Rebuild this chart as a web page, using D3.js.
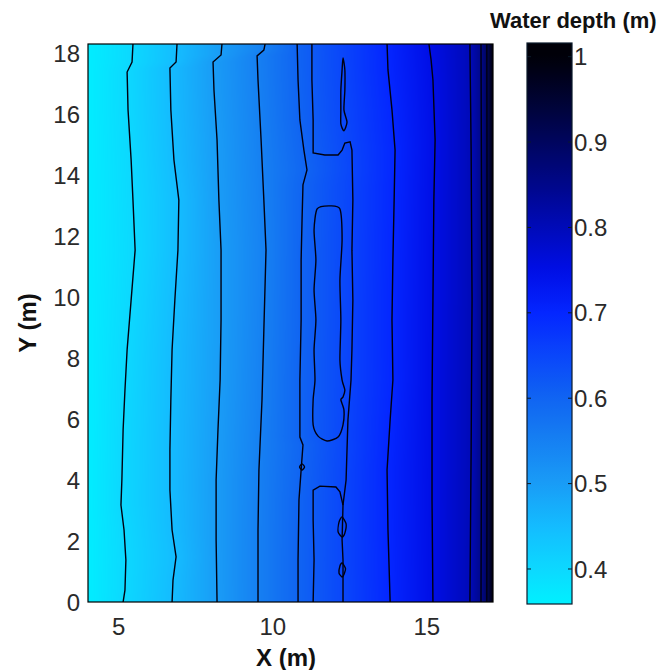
<!DOCTYPE html>
<html>
<head>
<meta charset="utf-8">
<script src="https://cdn.jsdelivr.net/npm/d3@7"></script>
<style>
  body { margin: 0; background: #fff; }
  text { font-family: Arial, "Liberation Sans", sans-serif; }
</style>
</head>
<body>
<svg id="chart" width="659" height="670"></svg>
<script>
// axis ticks
const xTicks = [5, 10, 15];
const yTicks = [0, 2, 4, 6, 8, 10, 12, 14, 16, 18];
const cbTicks = [0.4, 0.5, 0.6, 0.7, 0.8, 0.9, 1];

// depth at the left and right walls (m)
const depthLeft = 0.365;
const depthRight = 1.0;

// colormap
const cmapDepth = [0.36, 0.40, 0.45, 0.50, 0.55, 0.60, 0.65, 0.70, 0.75, 0.80, 0.85, 0.90, 0.95, 1.00];
const cmapColor = ["#00f0ff", "#0cd8ff", "#14bcff", "#199cf6", "#1680f2", "#1064f2", "#0a46fa",
                   "#0426ff", "#000ee6", "#000ab8", "#00078a", "#00055e", "#000332", "#000008"];

// contour lines, points are [X (m), Y (m)]
const c40 = [[5.46,18.3],[5.43,17.71],[5.27,17.38],[5.30,16.14],[5.40,14.50],[5.46,13.18],[5.53,11.54],
  [5.40,9.90],[5.27,8.27],[5.20,6.95],[5.14,5.64],[5.10,4.00],[5.07,3.18],[5.17,2.36],[5.23,1.38],[5.20,0.39],[5.14,0]];
const c45 = [[6.89,18.3],[6.86,17.71],[6.66,17.51],[6.69,16.14],[6.79,14.50],[6.95,13.18],[6.92,11.54],
  [6.82,9.90],[6.73,8.27],[6.69,6.63],[6.66,4.99],[6.66,3.67],[6.73,2.36],[6.86,1.48],[6.76,0.72],[6.73,0]];
const c50 = [[8.35,18.3],[8.32,17.94],[8.06,17.71],[8.09,16.79],[8.19,15.15],[8.25,13.18],[8.32,11.54],
  [8.32,9.25],[8.29,7.28],[8.22,5.64],[8.16,4.00],[8.16,2.03],[8.19,0]];
const c55 = [[9.75,18.3],[9.71,18.10],[9.49,17.91],[9.52,17.12],[9.62,15.15],[9.71,13.18],[9.78,11.54],
  [9.71,8.92],[9.65,6.63],[9.55,4.33],[9.52,2.36],[9.52,0]];
const c60 = [[10.79,18.3],[10.82,17.12],[10.88,15.81],[11.01,14.82],[11.11,14.17],[10.98,13.68],[10.95,12.53],
  [10.92,11.22],[10.92,9.25],[10.88,7.28],[10.88,5.41],[10.98,5.15],[10.92,4.33],[10.85,3.35],[10.82,1.38],[10.82,0]];
const c60dot = [[10.87,4.43],[10.95,4.53],[11.03,4.43],[10.95,4.33]];
const c65 = [[11.27,18.3],[11.27,17.12],[11.31,15.81],[11.31,14.73],[11.69,14.66],[12.12,14.66],[12.25,14.82],
  [12.34,15.05],[12.51,15.09],[12.57,14.82],[12.60,13.18],[12.57,11.54],[12.60,9.90],[12.57,8.27],[12.54,7.28],
  [12.44,5.97],[12.38,4.00],[12.28,3.18],[12.25,2.03],[12.28,1.38],[12.28,0]];
const c65low = [[11.31,0],[11.34,1.38],[11.31,2.69],[11.31,3.67],[11.53,3.80],[12.05,3.77],[12.18,3.61],[12.28,3.18]];
const c65trough = [[11.44,12.89],[11.82,12.99],[12.18,12.89],[12.25,11.87],[12.18,10.56],[12.21,9.25],[12.18,7.94],
  [12.25,7.28],[12.34,6.95],[12.28,6.72],[12.21,6.63],[12.31,6.30],[12.28,5.81],[12.12,5.41],[11.76,5.28],
  [11.47,5.44],[11.31,5.81],[11.31,6.63],[11.37,7.28],[11.34,8.27],[11.40,9.25],[11.34,10.23],[11.40,11.22],[11.34,12.20]];
const c65spike = [[12.28,17.84],[12.34,17.45],[12.34,16.79],[12.31,16.14],[12.41,15.74],[12.31,15.45],
  [12.21,15.68],[12.21,16.14],[12.21,16.79],[12.25,17.45]];
const c65drop1 = [[12.25,2.79],[12.38,2.56],[12.34,2.26],[12.25,2.13],[12.12,2.30],[12.15,2.62]];
const c65drop2 = [[12.25,1.28],[12.36,1.10],[12.31,0.90],[12.25,0.82],[12.15,0.95],[12.18,1.18]];
const c70 = [[13.71,18.3],[13.74,17.45],[13.87,16.14],[13.97,14.82],[13.94,13.18],[13.90,11.22],[13.87,9.25],
  [13.90,7.28],[13.81,5.97],[13.71,4.33],[13.74,2.36],[13.81,0]];
const c75 = [[15.07,18.3],[15.14,17.78],[15.20,17.12],[15.27,15.15],[15.23,13.18],[15.20,9.90],[15.17,6.63],
  [15.17,3.35],[15.20,0]];
const c80 = [[16.40,18.3],[16.44,14.82],[16.47,9.90],[16.44,4.99],[16.40,0]];
const c85 = [[16.76,18.3],[16.79,9.90],[16.76,0]];
const c90 = [[16.95,18.3],[16.96,9.90],[16.95,0]];

const openLines = [c40, c45, c50, c55, c60, c65, c65low, c70, c75, c80, c85, c90];
const closedLines = [c60dot, c65trough, c65spike, c65drop1, c65drop2];
// lines spanning the whole flume, used to shade the depth field row by row
const fieldLines = [c40, c45, c50, c55, c60, c70, c75, c80, c85, c90];
const fieldLevels = [0.40, 0.45, 0.50, 0.55, 0.60, 0.70, 0.75, 0.80, 0.85, 0.90];

const svg = d3.select("#chart");
const pLeft = 88, pRight = 493, pTop = 44, pBottom = 602;

const x = d3.scaleLinear().domain([4, 17.15]).range([pLeft, pRight]);
const y = d3.scaleLinear().domain([0, 18.3]).range([pBottom, pTop]);
const color = d3.scaleLinear().domain(cmapDepth).range(cmapColor).clamp(true);

// colour lookup table
const lut = d3.range(1001).map(i => d3.rgb(color(0.36 + i * 0.64 / 1000)));
function rgbOf(v) {
  let i = Math.round((v - 0.36) / 0.64 * 1000);
  return lut[Math.max(0, Math.min(1000, i))];
}

function xAt(pts, Y) {
  for (let i = 0; i < pts.length - 1; i++) {
    const [x0, y0] = pts[i], [x1, y1] = pts[i + 1];
    if ((Y - y0) * (Y - y1) <= 0 && y0 !== y1) return x0 + (x1 - x0) * (Y - y0) / (y1 - y0);
  }
  return pts[pts.length - 1][0];
}

// depth field, painted into a canvas
const W = pRight - pLeft, H = pBottom - pTop;
const cv = document.createElement("canvas");
cv.width = W; cv.height = H;
const ctx = cv.getContext("2d");
const img = ctx.createImageData(W, H);
for (let j = 0; j < H; j++) {
  const Y = y.invert(pTop + j + 0.5);
  const xs = [4].concat(fieldLines.map(l => xAt(l, Y)), [17.15]);
  const ds = [depthLeft].concat(fieldLevels, [depthRight]);
  const prof = d3.scaleLinear().domain(xs).range(ds);
  for (let i = 0; i < W; i++) {
    const c = rgbOf(prof(x.invert(pLeft + i + 0.5)));
    const k = (j * W + i) * 4;
    img.data[k] = c.r; img.data[k + 1] = c.g; img.data[k + 2] = c.b; img.data[k + 3] = 255;
  }
}
ctx.putImageData(img, 0, 0);

svg.append("image")
  .attr("x", pLeft).attr("y", pTop)
  .attr("width", W).attr("height", H)
  .attr("preserveAspectRatio", "none")
  .attr("href", cv.toDataURL());

// contour lines
const line = d3.line().x(d => x(d[0])).y(d => y(d[1]));
const loop = d3.line().x(d => x(d[0])).y(d => y(d[1])).curve(d3.curveCardinalClosed.tension(0.3));
svg.append("clipPath").attr("id", "plotclip")
  .append("rect").attr("x", pLeft).attr("y", pTop).attr("width", W).attr("height", H);
const g = svg.append("g").attr("clip-path", "url(#plotclip)");
g.selectAll("path.open").data(openLines).enter().append("path")
  .attr("class", "open")
  .attr("d", line)
  .attr("fill", "none").attr("stroke", "#000010").attr("stroke-width", 1.4);
g.selectAll("path.closed").data(closedLines).enter().append("path")
  .attr("class", "closed")
  .attr("d", loop)
  .attr("fill", "none").attr("stroke", "#000010").attr("stroke-width", 1.4);

// axes box
svg.append("rect")
  .attr("x", pLeft).attr("y", pTop).attr("width", W).attr("height", H)
  .attr("fill", "none").attr("stroke", "#000").attr("stroke-width", 1.2);

// tick labels
svg.selectAll("text.ytick").data(yTicks).enter().append("text")
  .attr("class", "ytick")
  .attr("x", 80).attr("y", d => y(d)).attr("dy", "0.36em")
  .attr("text-anchor", "end")
  .attr("font-size", 24).attr("fill", "#2a2a2a")
  .text(d => d);
svg.selectAll("text.xtick").data(xTicks).enter().append("text")
  .attr("class", "xtick")
  .attr("x", d => x(d)).attr("y", 635)
  .attr("text-anchor", "middle")
  .attr("font-size", 24).attr("fill", "#2a2a2a")
  .text(d => d);

// axis titles
svg.append("text")
  .attr("x", 286).attr("y", 666)
  .attr("text-anchor", "middle")
  .attr("font-size", 24).attr("font-weight", "bold").attr("fill", "#111")
  .text("X (m)");
svg.append("text")
  .attr("transform", "translate(36," + ((pTop + pBottom) / 2) + ") rotate(-90)")
  .attr("text-anchor", "middle")
  .attr("font-size", 24).attr("font-weight", "bold").attr("fill", "#111")
  .text("Y (m)");

// colour bar
const cbLeft = 527, cbW = 45, cbTop = 43, cbBottom = 604;
const cb = d3.scaleLinear().domain([0.359, 1.016]).range([cbBottom, cbTop]);
const grad = svg.append("defs").append("linearGradient")
  .attr("id", "cbgrad").attr("x1", 0).attr("y1", 1).attr("x2", 0).attr("y2", 0);
grad.selectAll("stop").data(d3.range(0, 1.0001, 0.02)).enter().append("stop")
  .attr("offset", d => d)
  .attr("stop-color", d => color(cb.invert(cbBottom - d * (cbBottom - cbTop))));
svg.append("rect")
  .attr("x", cbLeft).attr("y", cbTop).attr("width", cbW).attr("height", cbBottom - cbTop)
  .attr("fill", "url(#cbgrad)").attr("stroke", "#0a1a2a").attr("stroke-width", 1.2);
svg.selectAll("line.cbl").data(cbTicks).enter().append("line")
  .attr("class", "cbl")
  .attr("x1", cbLeft).attr("x2", cbLeft + 4).attr("y1", d => cb(d)).attr("y2", d => cb(d))
  .attr("stroke", "#0a1a2a");
svg.selectAll("line.cbr").data(cbTicks).enter().append("line")
  .attr("class", "cbr")
  .attr("x1", cbLeft + cbW - 4).attr("x2", cbLeft + cbW).attr("y1", d => cb(d)).attr("y2", d => cb(d))
  .attr("stroke", "#0a1a2a");
svg.selectAll("text.cbtick").data(cbTicks).enter().append("text")
  .attr("class", "cbtick")
  .attr("x", 574).attr("y", d => cb(d)).attr("dy", "0.36em")
  .attr("font-size", 24).attr("fill", "#2a2a2a")
  .text(d => d);
svg.append("text")
  .attr("x", 490).attr("y", 28)
  .attr("font-size", 22).attr("font-weight", "bold").attr("fill", "#111")
  .text("Water depth (m)");
</script>
</body>
</html>
